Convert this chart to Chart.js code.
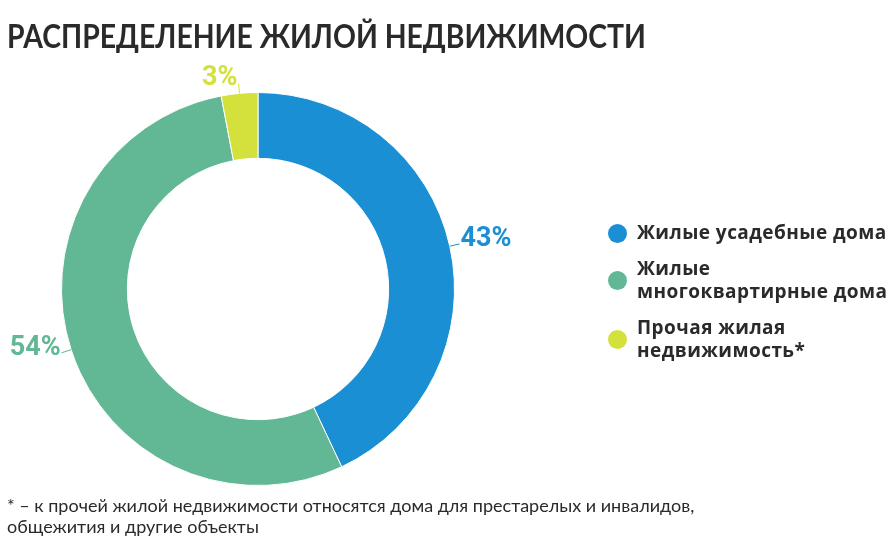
<!DOCTYPE html>
<html>
<head>
<meta charset="utf-8">
<script src="https://cdn.jsdelivr.net/npm/chart.js@4.4.1/dist/chart.umd.min.js"></script>
<style>
  html, body { margin: 0; padding: 0; background: #fff; }
  #wrap { position: relative; width: 890px; height: 543px; overflow: hidden; }
  #canvas { position: absolute; left: 0; top: 0; }
  #title { position: absolute; left: 7px; top: 15px; font: 700 33px "Lato", sans-serif; color: #2a2a2a; white-space: nowrap; transform: scaleX(0.86); transform-origin: left top; }
  #legend { position: absolute; left: 608px; top: 221px; }
  .item { position: relative; padding-left: 29px; font: 700 19px "Open Sans", sans-serif; letter-spacing: 0.45px; color: #2a2a2a; line-height: 23px; margin-bottom: 13px; white-space: nowrap; }
  .dot { position: absolute; left: 0; top: 50%; width: 19px; height: 19px; margin-top: -9px; border-radius: 50%; }
  #note { position: absolute; left: 7px; top: 495px; font: 400 18px "Lato", sans-serif; color: #2a2a2a; line-height: 21px; white-space: nowrap; }
</style>
</head>
<body>
<div id="wrap">
  <canvas id="canvas" width="890" height="543"></canvas>
  <div id="title">РАСПРЕДЕЛЕНИЕ ЖИЛОЙ НЕДВИЖИМОСТИ</div>
  <div id="legend"></div>
  <div id="note">* – к прочей жилой недвижимости относятся дома для престарелых и инвалидов,<br>общежития и другие объекты</div>
</div>
<script>
var categories = [
    ["Жилые усадебные дома"],
    ["Жилые", "многоквартирные дома"],
    ["Прочая жилая", "недвижимость*"]
];
var shares = [43, 54, 3];
var colors = ['#1b8fd3', '#62b794', '#d4e13c'];

// legend
var legend = document.getElementById('legend');
categories.forEach(function(lines, i) {
    var div = document.createElement('div');
    div.className = 'item';
    div.innerHTML = '<span class="dot" style="background:' + colors[i] + '"></span>' + lines.join('<br>');
    legend.appendChild(div);
});

// percent labels with short leader lines
var outsideLabels = {
    id: 'outsideLabels',
    afterDatasetsDraw: function(chart) {
        var ctx = chart.ctx;
        var meta = chart.getDatasetMeta(0);
        meta.data.forEach(function(arc, i) {
            var mid = (arc.startAngle + arc.endAngle) / 2;
            var r0 = arc.outerRadius;
            var r1 = arc.outerRadius + 10;
            var cos = Math.cos(mid), sin = Math.sin(mid);
            var x0 = arc.x + cos * r0, y0 = arc.y + sin * r0;
            var x1 = arc.x + cos * r1, y1 = arc.y + sin * r1;
            ctx.save();
            ctx.strokeStyle = colors[i];
            ctx.lineWidth = 1;
            ctx.beginPath();
            ctx.moveTo(x0, y0);
            ctx.lineTo(x1, y1);
            ctx.stroke();
            ctx.fillStyle = colors[i];
            ctx.font = '700 27px Roboto, sans-serif';
            ctx.textBaseline = 'alphabetic';
            if (cos >= 0) {
                ctx.textAlign = 'left';
                ctx.fillText(shares[i] + '%', x1 + 1, y1 + 2);
            } else {
                ctx.textAlign = 'right';
                ctx.fillText(shares[i] + '%', x1 - 1, y1 + 2);
            }
            ctx.restore();
        });
    }
};

var ctx = document.getElementById('canvas').getContext('2d');
var myChart = new Chart(ctx, {
    type: 'doughnut',
    data: {
        labels: categories.map(function(c) { return c.join(' '); }),
        datasets: [{
            data: shares,
            backgroundColor: colors,
            borderColor: '#ffffff',
            borderWidth: 1,
            hoverOffset: 0
        }]
    },
    options: {
        responsive: false,
        animation: false,
        cutout: '66.5%',
        layout: {
            padding: { left: 61, top: 92, right: 435, bottom: 57 }
        },
        plugins: {
            legend: { display: false },
            tooltip: { enabled: false }
        }
    },
    plugins: [outsideLabels]
});
</script>
</body>
</html>
